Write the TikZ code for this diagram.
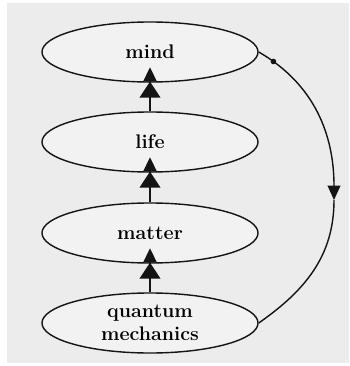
\documentclass[tikz,border=0pt]{standalone}
\usepackage{xcolor}
\usepackage{tikz}
\usetikzlibrary{arrows.meta, shapes.geometric, positioning, decorations.markings}

\definecolor{paper}{RGB}{236,236,236}
\definecolor{inside}{RGB}{242,242,242}
\definecolor{ink}{RGB}{20,20,20}

\begin{document}
\begin{tikzpicture}[
  x=0.025cm, y=-0.025cm,
  level/.style={ellipse, draw=ink, line width=1pt, fill=inside, minimum width=5.4cm, minimum height=1.5cm, inner sep=0pt, align=center, font=\fontsize{14}{16}\selectfont\bfseries},
  rise/.style={draw=ink, line width=1pt, shorten >=-11pt, -{Triangle[length=4mm,width=5.2mm] Triangle[length=3.6mm,width=3.4mm]}},
  loopback/.style={draw=ink, line width=1pt},
  tick/.style={postaction={decorate}, decoration={markings, mark=at position 0.1 with {\fill[ink] (0,0) circle (2pt);}}}
]
\useasboundingbox (0,0) rectangle (349,366);
\fill[white] (0,0) rectangle (349,366);
\fill[paper] (7,3) rectangle (349,363);

\node (mind) at (150,52) [level] {mind};
\node (life) at (150,142) [level] {life};
\node (matter) at (150,233) [level] {matter};
\node (qm) at (150,323) [level] {quantum\\mechanics};

\coordinate (turn) at (334,200);

\draw [rise] (life.north) -- (mind.south);
\draw [rise] (matter.north) -- (life.south);
\draw [rise] (qm.north) -- (matter.south);

\draw [loopback, tick, -{Triangle[length=3.6mm,width=3.2mm]}] (mind.east) to[out=-30,in=90] (turn);
\draw [loopback] (turn) to[out=-90,in=35] (qm.east);

\end{tikzpicture}
\end{document}
